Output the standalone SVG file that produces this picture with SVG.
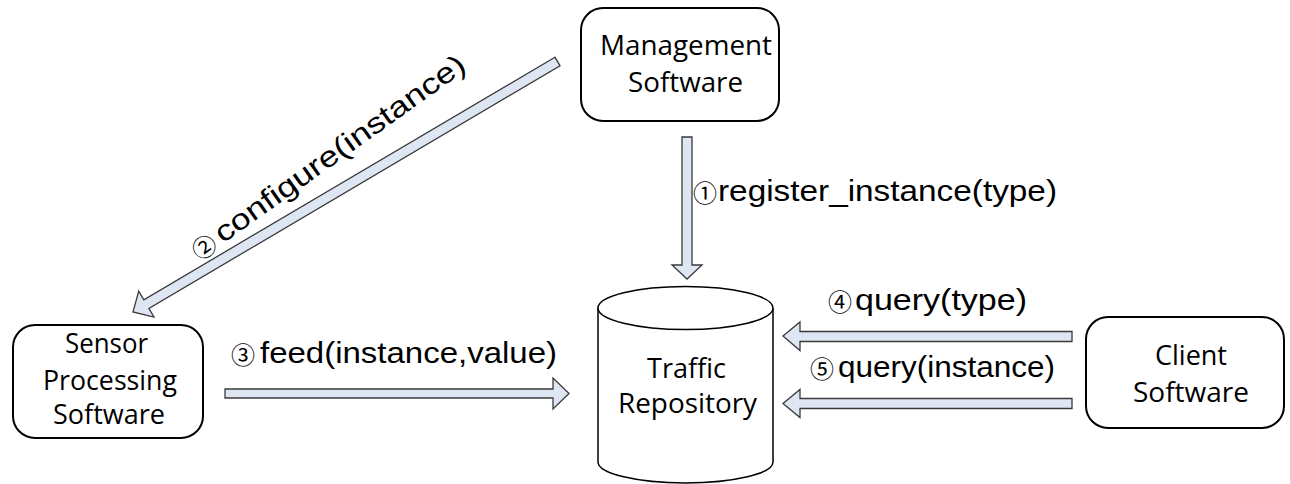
<svg xmlns="http://www.w3.org/2000/svg" width="1290" height="484" viewBox="0 0 1290 484">
  <style>
    .box { fill: #ffffff; stroke: #000000; stroke-width: 2; }
    .db { fill: #ffffff; stroke: #000000; stroke-width: 1.5; }
    .flow { fill: #dee6f4; stroke: #3a3a3a; stroke-width: 1.3; stroke-linejoin: miter; }
    .node-label { font-family: "Open Sans", "Noto Sans", sans-serif; font-size: 27px; fill: #000000; }
    .call { font-family: "Liberation Sans", Arial, sans-serif; font-size: 29px; fill: #000000; }
    .step { font-family: "Noto Sans CJK JP", "DejaVu Sans", sans-serif; font-size: 24px; fill: #000000; }
  </style>

  <!-- block arrows between the components -->
  <g id="connectors">
    <!-- 1: management -> repository -->
    <polygon class="flow" points="682,137 692,137 692,265 702,265 687,279 672,265 682,265"/>
    <!-- 2: management -> sensor processing -->
    <polygon class="flow" points="554.96,57.19 143.81,299.81 138.73,291.2 133,312 153.97,317.04 148.89,308.43 560.04,65.81"/>
    <!-- 3: sensor processing -> repository -->
    <polygon class="flow" points="225,389 553,389 553,378 569,393.5 553,409 553,398 225,398"/>
    <!-- 4: client -> repository -->
    <polygon class="flow" points="1072,331.5 800,331.5 800,322 783,336 800,350.5 800,341.5 1072,341.5"/>
    <!-- 5: client -> repository -->
    <polygon class="flow" points="1072,398.5 800,398.5 800,389.5 783,403.5 800,417.5 800,408.5 1072,408.5"/>

    <g id="label-1">
      <text class="step" x="693" y="202">①</text>
      <text class="call" x="718" y="201" textLength="339" lengthAdjust="spacingAndGlyphs">register_instance(type)</text>
    </g>
    <g id="label-2" transform="translate(200.9,259.5) rotate(-35.5)">
      <text class="step" x="-2" y="1">②</text>
      <text class="call" x="27" y="0" textLength="301" lengthAdjust="spacingAndGlyphs">configure(instance)</text>
    </g>
    <g id="label-3">
      <text class="step" x="231" y="364">③</text>
      <text class="call" x="260" y="363" textLength="297" lengthAdjust="spacingAndGlyphs">feed(instance,value)</text>
    </g>
    <g id="label-4">
      <text class="step" x="828" y="311">④</text>
      <text class="call" x="855" y="310" textLength="172" lengthAdjust="spacingAndGlyphs">query(type)</text>
    </g>
    <g id="label-5">
      <text class="step" x="810" y="378">⑤</text>
      <text class="call" x="838" y="377" textLength="217" lengthAdjust="spacingAndGlyphs">query(instance)</text>
    </g>
  </g>

  <g id="management-software">
    <rect class="box" x="581" y="8" width="198" height="113" rx="22" ry="22"/>
    <text class="node-label" x="600" y="55" textLength="172" lengthAdjust="spacingAndGlyphs">Management</text>
    <text class="node-label" x="628" y="92" textLength="115" lengthAdjust="spacingAndGlyphs">Software</text>
  </g>

  <g id="sensor-processing-software">
    <rect class="box" x="13" y="325" width="190" height="113" rx="22" ry="22"/>
    <text class="node-label" x="65" y="353" textLength="83" lengthAdjust="spacingAndGlyphs">Sensor</text>
    <text class="node-label" x="43" y="390" textLength="134" lengthAdjust="spacingAndGlyphs">Processing</text>
    <text class="node-label" x="53" y="424" textLength="112" lengthAdjust="spacingAndGlyphs">Software</text>
  </g>

  <g id="traffic-repository">
    <path class="db" d="M598,308 V462 A87.5,21 0 0 0 773,462 V308"/>
    <ellipse class="db" cx="685.5" cy="308" rx="87.5" ry="21.5"/>
    <text class="node-label" x="647" y="378" textLength="79" lengthAdjust="spacingAndGlyphs">Traffic</text>
    <text class="node-label" x="618" y="413" textLength="139" lengthAdjust="spacingAndGlyphs">Repository</text>
  </g>

  <g id="client-software">
    <rect class="box" x="1086" y="317" width="198" height="111" rx="22" ry="22"/>
    <text class="node-label" x="1155" y="365" textLength="72" lengthAdjust="spacingAndGlyphs">Client</text>
    <text class="node-label" x="1133" y="402" textLength="116" lengthAdjust="spacingAndGlyphs">Software</text>
  </g>
</svg>
